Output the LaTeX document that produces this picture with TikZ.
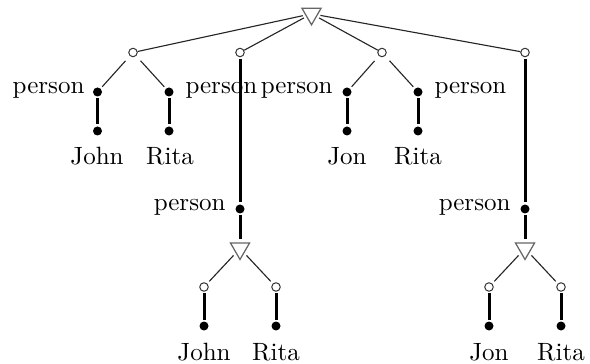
\documentclass[tikz,border=0pt]{standalone}
\usetikzlibrary{shapes.geometric}
\begin{document}
\begin{tikzpicture}[x=0.4pt,y=-0.4pt,
  tri/.style={regular polygon, regular polygon sides=3, shape border rotate=180,
    draw=black!60, minimum size=8.8pt, inner sep=0pt, line width=0.5pt},
  oc/.style={circle, draw=black!80, fill=white, minimum size=3.4pt, inner sep=0pt, line width=0.4pt},
  fd/.style={circle, fill=black, minimum size=3.6pt, inner sep=0pt},
  tedge/.style={line width=0.45pt, black!85},
  topedge/.style={tedge, shorten <=1pt},
  subedge/.style={tedge, shorten <=2.6pt, shorten >=0.8pt},
  negedge/.style={tedge, shorten <=1.2pt, shorten >=1.2pt},
  kedge/.style={line width=1.2pt, shorten <=0.6pt, shorten >=0.6pt},
  lbl/.style={inner sep=0pt, font=\normalsize}]
\useasboundingbox (0,0) rectangle (590,364);
% top level
\node[tri] (T1) at (311.5,13.8) {};
\node[oc] (c1) at (133,52.5) {};
\node[oc] (c2) at (240,52.5) {};
\node[oc] (c3) at (382,52.5) {};
\node[oc] (c4) at (525,52.5) {};
\draw[topedge] (T1) -- (c1);
\draw[topedge] (T1) -- (c2);
\draw[topedge] (T1) -- (c3);
\draw[topedge] (T1) -- (c4);
% first conjunct
\node[fd] (d1) at (97.5,92) {};
\node[fd] (d2) at (169,92) {};
\node[fd] (e1) at (97.5,131) {};
\node[fd] (e2) at (169,131) {};
\draw[subedge] (c1) -- (d1);
\draw[subedge] (c1) -- (d2);
\draw[kedge] (d1) -- (e1);
\draw[kedge] (d2) -- (e2);
\node[lbl, anchor=east] (p1) at (85,90) {person};
\node[lbl, anchor=west] (p2) at (185,90) {person};
\node[lbl, anchor=base] (n1) at (97,165) {John};
\node[lbl, anchor=base] (n2) at (170,165) {Rita};
% third conjunct
\node[fd] (d3) at (347,92) {};
\node[fd] (d4) at (418,92) {};
\node[fd] (e3) at (347,131) {};
\node[fd] (e4) at (418,131) {};
\draw[subedge] (c3) -- (d3);
\draw[subedge] (c3) -- (d4);
\draw[kedge] (d3) -- (e3);
\draw[kedge] (d4) -- (e4);
\node[lbl, anchor=east] (p3) at (333,90) {person};
\node[lbl, anchor=west] (p4) at (434,90) {person};
\node[lbl, anchor=base] (n3) at (347,165) {Jon};
\node[lbl, anchor=base] (n4) at (418,165) {Rita};
% second conjunct (negated)
\node[fd] (f2) at (240,209) {};
\draw[kedge] (c2) -- (f2);
\node[lbl, anchor=east] (p5) at (226,207) {person};
\node[tri] (T2) at (240,248.5) {};
\draw[kedge, shorten >=1.5pt] (f2) -- (T2);
\node[oc] (g1) at (204,287) {};
\node[oc] (g2) at (276,287) {};
\draw[negedge] (T2) -- (g1);
\draw[negedge] (T2) -- (g2);
\node[fd] (h1) at (204,326) {};
\node[fd] (h2) at (276,326) {};
\draw[kedge] (g1) -- (h1);
\draw[kedge] (g2) -- (h2);
\node[lbl, anchor=base] (n5) at (204,360) {John};
\node[lbl, anchor=base] (n6) at (276,360) {Rita};
% fourth conjunct (negated)
\node[fd] (f4) at (525,209) {};
\draw[kedge] (c4) -- (f4);
\node[lbl, anchor=east] (p6) at (511,207) {person};
\node[tri] (T4) at (525,248.5) {};
\draw[kedge, shorten >=1.5pt] (f4) -- (T4);
\node[oc] (g3) at (489,287) {};
\node[oc] (g4) at (561,287) {};
\draw[negedge] (T4) -- (g3);
\draw[negedge] (T4) -- (g4);
\node[fd] (h3) at (489,326) {};
\node[fd] (h4) at (561,326) {};
\draw[kedge] (g3) -- (h3);
\draw[kedge] (g4) -- (h4);
\node[lbl, anchor=base] (n7) at (489,360) {Jon};
\node[lbl, anchor=base] (n8) at (561,360) {Rita};
\end{tikzpicture}
\end{document}
